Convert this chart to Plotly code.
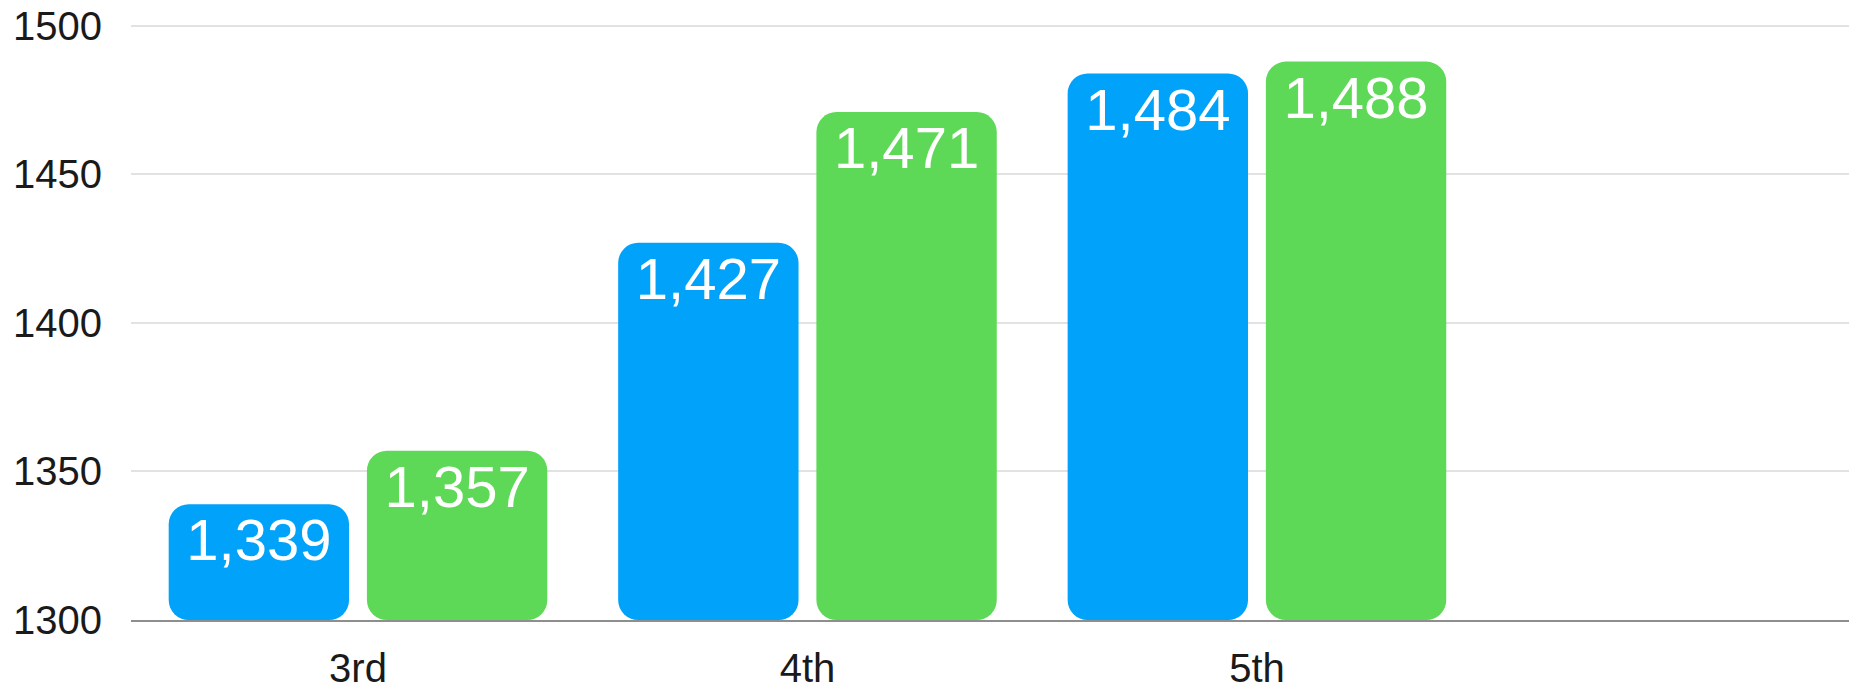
import plotly.graph_objects as go

categories = ["3rd", "4th", "5th"]
series_a = [1339, 1427, 1484]
series_b = [1357, 1471, 1488]
y_ticks = [1300, 1350, 1400, 1450, 1500]

BLUE = "#00A3F9"
GREEN = "#5ED957"
BASE = 1300
FONT = "Liberation Sans, Arial, Helvetica, sans-serif"

fig = go.Figure()

# bars drawn from an explicit base so that all four corners get rounded
for vals, color, name in [(series_a, BLUE, "Series A"), (series_b, GREEN, "Series B")]:
    fig.add_trace(go.Bar(
        x=categories, y=[v - BASE for v in vals], base=[BASE for _ in vals],
        marker=dict(color=color, line=dict(width=0)), name=name,
        text=[f"{v:,}" for v in vals], textposition="inside", insidetextanchor="end",
        textangle=0, constraintext="none",
        textfont=dict(color="white", size=58, family=FONT),
        hovertemplate="%{x}: %{text}<extra></extra>", showlegend=False,
    ))

# page body has an 8px default margin, so the figure is 8px smaller and margins are offset
fig.update_layout(
    width=1849, height=681,
    margin=dict(l=123, r=0, t=15, b=69),
    barmode="group", bargap=0.118, bargroupgap=0.09, barcornerradius=20,
    paper_bgcolor="white", plot_bgcolor="white",
    font=dict(family=FONT, color="#1a1a1a", size=40),
    showlegend=False,
    xaxis=dict(
        type="category", range=[-0.505, 3.335], showgrid=False,
        showline=True, linecolor="#8e8e8e", linewidth=2,
        ticks="", tickfont=dict(size=40, color="#1a1a1a"), ticklabelstandoff=12,
        automargin=False, ticklabeloverflow="allow",
    ),
    yaxis=dict(
        range=[BASE, 1501], tickvals=y_ticks, ticktext=[str(t) for t in y_ticks],
        showgrid=True, gridcolor="#e2e2e2", gridwidth=2, zeroline=False,
        showline=False, ticks="", tickfont=dict(size=40, color="#1a1a1a"),
        ticklabelstandoff=28, automargin=False, ticklabeloverflow="allow",
    ),
)

fig.write_html("out.html")
